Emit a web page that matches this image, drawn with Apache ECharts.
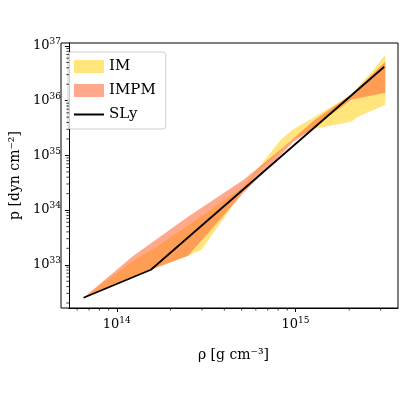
<!DOCTYPE html>
<html><head><meta charset="utf-8">
<script src="https://cdn.jsdelivr.net/npm/echarts@6/dist/echarts.min.js"></script>
<style>html,body{margin:0;padding:0;background:#fff}#c{width:400px;height:400px}</style>
</head><body><div id="c"></div>
<script>
// log10(rho), log10(p)
const slyRho = [13.814, 14.191, 15.497];
const slyP   = [32.397, 32.909, 36.620];
const imUpRho = [13.814, 14.093, 14.191, 14.437, 14.710, 14.918, 14.984, 15.109, 15.311, 15.437, 15.503];
const imUpP   = [32.397, 33.080, 33.260, 33.800, 34.430, 35.285, 35.468, 35.706, 36.108, 36.565, 36.839];
const imLoRho = [15.503, 15.350, 15.311, 15.109, 14.984, 14.792, 14.710, 14.475, 14.399, 14.191, 13.814];
const imLoP   = [35.925, 35.706, 35.614, 35.486, 35.285, 34.700, 34.371, 33.274, 33.165, 32.909, 32.397];
const pmUpRho = [13.814, 14.093, 14.399, 14.710, 14.929, 15.109, 15.311, 15.503];
const pmUpP   = [32.397, 33.165, 33.878, 34.554, 35.139, 35.651, 36.108, 36.711];
const pmLoRho = [15.503, 15.311, 15.109, 14.984, 14.710, 14.399, 14.191, 13.814];
const pmLoP   = [36.144, 36.016, 35.523, 35.230, 34.316, 33.165, 32.909, 32.397];
const xTicks = [14, 15];
const yTicks = [33, 34, 35, 36, 37];

const FONT = 'DejaVu Serif';
function poly(rx, py, rx2, py2, color, name) {
  return {
    type: 'custom', name: name, data: [[0, 0]], z: 2,
    itemStyle: {color: color},
    renderItem: function (params, api) {
      const pts = [];
      rx.forEach((v, i) => pts.push(api.coord([v, py[i]])));
      rx2.forEach((v, i) => pts.push(api.coord([v, py2[i]])));
      return {type: 'polygon', shape: {points: pts}, style: {fill: color}};
    }
  };
}
function minorTicks() {
  return {
    type: 'custom', data: [[0, 0]], silent: true, z: 5,
    renderItem: function (params, api) {
      const ch = [];
      const cs = params.coordSys;
      for (let d = 13; d <= 15; d++) for (let k = 2; k <= 9; k++) {
        const v = d + Math.log10(k);
        if (v < 13.732 || v > 15.574) continue;
        const p = api.coord([v, 32.21]);
        ch.push({type: 'line', shape: {x1: p[0], y1: cs.y + cs.height, x2: p[0], y2: cs.y + cs.height + 2.5}, style: {stroke: '#000', lineWidth: 0.8}});
      }
      for (let d = 32; d <= 37; d++) for (let k = 2; k <= 9; k++) {
        const v = d + Math.log10(k);
        if (v < 32.21 || v > 37.055) continue;
        const p = api.coord([13.732, v]);
        ch.push({type: 'line', shape: {x1: cs.x, y1: p[1], x2: cs.x - 2.5, y2: p[1]}, style: {stroke: '#000', lineWidth: 0.8}});
      }
      return {type: 'group', children: ch};
    }
  };
}
const lbl = v => '10{s|' + v + '}';
const rich = {s: {fontSize: 9, verticalAlign: 'top', padding: [0, 0, 8, 0], fontFamily: FONT}};
const chart = echarts.init(document.getElementById('c'));
chart.setOption({
  animation: false,
  grid: {left: 61, right: 2, top: 43, bottom: 92},
  xAxis: {type: 'value', min: 13.732, max: 15.574,
    axisLine: {onZero: false, lineStyle: {color: '#000'}}, splitLine: {show: false},
    axisTick: {length: 4, lineStyle: {color: '#000'}, customValues: xTicks},
    axisLabel: {color: '#000', fontSize: 13, fontFamily: FONT, rich: rich, customValues: xTicks,
      formatter: v => lbl(Math.round(v))},
    name: 'ρ [g cm⁻³]', nameLocation: 'middle', nameGap: 40,
    nameTextStyle: {color: '#000', fontSize: 14, fontFamily: FONT}},
  yAxis: {type: 'value', min: 32.21, max: 37.055,
    axisLine: {show: true, onZero: false, lineStyle: {color: '#000'}}, splitLine: {show: false},
    axisTick: {length: 4, lineStyle: {color: '#000'}, customValues: yTicks},
    axisLabel: {color: '#000', fontSize: 13, fontFamily: FONT, rich: rich, customValues: yTicks, formatter: v => lbl(Math.round(v))},
    name: 'p [dyn cm⁻²]', nameLocation: 'middle', nameGap: 40, nameRotate: 90,
    nameTextStyle: {color: '#000', fontSize: 14, fontFamily: FONT}},
  legend: {orient: 'vertical', left: 68, top: 52, itemWidth: 30, itemHeight: 13, itemGap: 9,
    padding: [7, 10, 7, 6], borderColor: '#ccc', borderWidth: 1, borderRadius: 3, backgroundColor: 'rgba(255,255,255,0.8)',
    textStyle: {fontSize: 15, fontFamily: FONT, color: '#000'},
    data: [{name: 'IM', icon: 'rect'}, {name: 'IMPM', icon: 'rect'},
      {name: 'SLy', icon: 'path://M0,0H30V2H0Z'}]},
  series: [
    poly(imUpRho, imUpP, imLoRho, imLoP, 'rgba(255,222,90,0.8)', 'IM'),
    poly(pmUpRho, pmUpP, pmLoRho, pmLoP, 'rgba(255,110,60,0.6)', 'IMPM'),
    {type: 'line', name: 'SLy', data: slyRho.map((v, i) => [v, slyP[i]]), showSymbol: false, z: 4,
      lineStyle: {color: '#000', width: 1.8}, itemStyle: {color: '#000'}},
    minorTicks()
  ],
  graphic: [{type: 'rect', shape: {x: 61, y: 43, width: 337, height: 265}, style: {fill: 'none', stroke: '#000', lineWidth: 1}, z: 10, silent: true}]
});
</script></body></html>
